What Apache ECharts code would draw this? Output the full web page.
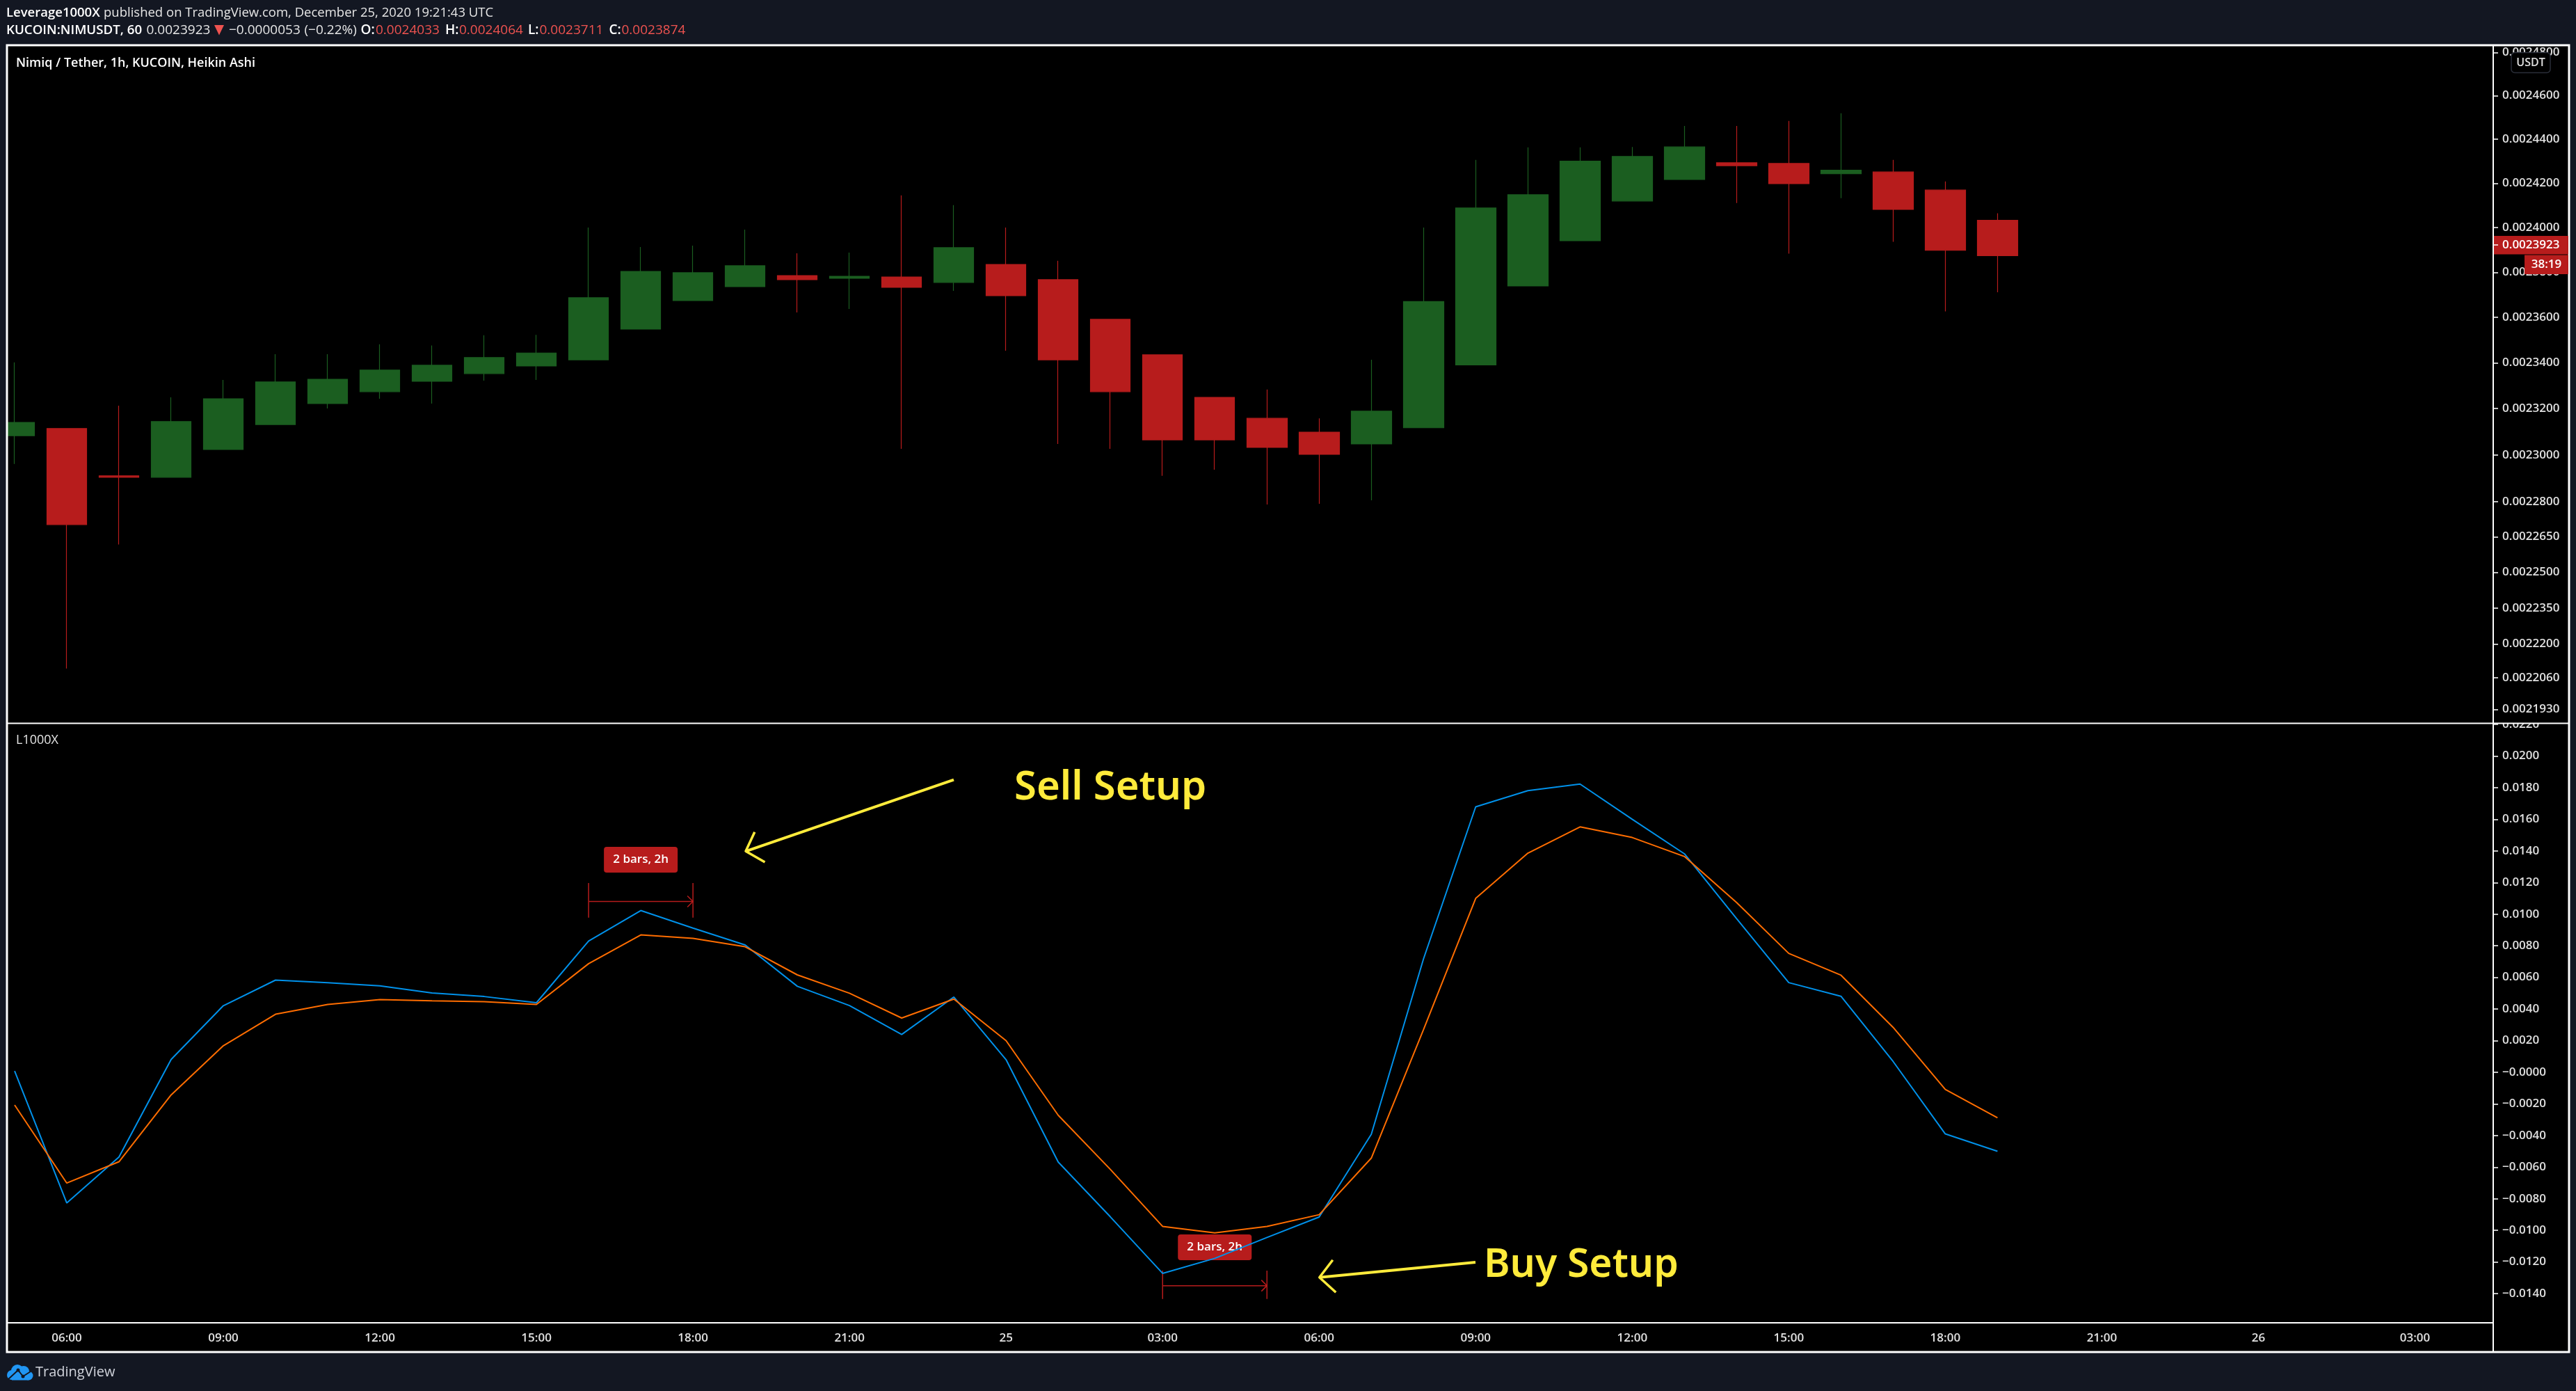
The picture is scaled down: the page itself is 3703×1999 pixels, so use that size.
<!DOCTYPE html>
<html>
  <head>
    <meta charset="utf-8">
    <title>NIMUSDT Heikin Ashi</title>
    <script src="https://cdn.jsdelivr.net/npm/echarts@6/dist/echarts.min.js"></script>
    <style>
      html, body { margin: 0; padding: 0; background: #131722; }
    </style>
  </head>
  <body>
    <div id="main" style="width:3703px;height:1999px;"></div>
    <script>
// hours, 05:00 on the 24th up to 04:00 on the 26th
var hours = ['05:00','06:00','07:00','08:00','09:00','10:00','11:00','12:00','13:00','14:00','15:00','16:00','17:00','18:00','19:00','20:00','21:00','22:00','23:00',
  '25','01:00','02:00','03:00','04:00','05:00','06:00','07:00','08:00','09:00','10:00','11:00','12:00','13:00','14:00','15:00','16:00','17:00','18:00','19:00','20:00','21:00','22:00','23:00',
  '26','01:00','02:00','03:00','04:00'];

var opens = [0.0023083,0.0023114,0.0022910,0.0022904,0.0023023,0.0023131,0.0023222,0.0023274,0.0023319,0.0023353,0.0023386,0.0023413,0.0023548,0.0023674,0.0023736,0.0023785,0.0023773,0.0023779,0.0023755,0.0023835,0.0023767,0.0023591,0.0023435,0.0023249,0.0023158,0.0023098,0.0023047,0.0023117,0.0023391,0.0023739,0.0023941,0.0024120,0.0024217,0.0024293,0.0024290,0.0024243,0.0024251,0.0024169,0.0024033];
var closes = [0.0023140,0.0022702,0.0022904,0.0023144,0.0023243,0.0023316,0.0023328,0.0023368,0.0023389,0.0023423,0.0023443,0.0023687,0.0023804,0.0023798,0.0023829,0.0023767,0.0023782,0.0023733,0.0023910,0.0023696,0.0023413,0.0023274,0.0023065,0.0023065,0.0023032,0.0023002,0.0023189,0.0023670,0.0024088,0.0024148,0.0024300,0.0024322,0.0024365,0.0024280,0.0024198,0.0024259,0.0024082,0.0023898,0.0023874];
var lows = [0.0022961,0.0022098,0.0022617,0.0022904,0.0023023,0.0023131,0.0023201,0.0023243,0.0023222,0.0023322,0.0023325,0.0023413,0.0023548,0.0023674,0.0023736,0.0023622,0.0023637,0.0023026,0.0023717,0.0023453,0.0023047,0.0023026,0.0022910,0.0022936,0.0022787,0.0022790,0.0022805,0.0023117,0.0023391,0.0023739,0.0023941,0.0024120,0.0024217,0.0024111,0.0023883,0.0024133,0.0023936,0.0023626,0.0023711];
var highs = [0.0023402,0.0023114,0.0023213,0.0023249,0.0023325,0.0023438,0.0023438,0.0023481,0.0023476,0.0023521,0.0023523,0.0024000,0.0023913,0.0023919,0.0023991,0.0023885,0.0023888,0.0024145,0.0024101,0.0024000,0.0023851,0.0023591,0.0023435,0.0023249,0.0023283,0.0023158,0.0023413,0.0024000,0.0024306,0.0024363,0.0024363,0.0024365,0.0024461,0.0024461,0.0024484,0.0024519,0.0024306,0.0024208,0.0024064];
var lastClose = 0.0023874;

var fastLine = [0.00008,-0.00827,-0.00536,0.00081,0.00421,0.00583,0.00566,0.00547,0.00502,0.00479,0.00440,0.00830,0.01023,0.00912,0.00805,0.00544,0.00422,0.00239,0.00476,0.00080,-0.00568,-0.00915,-0.01272,-0.01177,-0.01045,-0.00916,-0.00392,0.00717,0.01679,0.01781,0.01823,0.01600,0.01382,0.00972,0.00567,0.00481,0.00068,-0.00390,-0.00500];
var slowLine = [-0.00207,-0.00701,-0.00566,-0.00143,0.00168,0.00367,0.00429,0.00460,0.00452,0.00446,0.00429,0.00687,0.00869,0.00847,0.00794,0.00616,0.00500,0.00343,0.00463,0.00200,-0.00272,-0.00615,-0.00975,-0.01016,-0.00975,-0.00901,-0.00543,0.00270,0.01100,0.01386,0.01552,0.01485,0.01365,0.01074,0.00752,0.00614,0.00284,-0.00109,-0.00288];

var priceTicks = [0.00248,0.00246,0.00244,0.00242,0.0024,0.00238,0.00236,0.00234,0.00232,0.0023,0.00228,0.002265,0.00225,0.002235,0.00222,0.002206,0.002193];
var oscTicks = [0.022,0.02,0.018,0.016,0.014,0.012,0.01,0.008,0.006,0.004,0.002,0,-0.002,-0.004,-0.006,-0.008,-0.01,-0.012,-0.014];

// date range tools: first bar, last bar, low, mid and high of the bracket
var ranges = [
  [11, 13, 0.00978, 0.0108, 0.01197, '2 bars, 2h'],
  [22, 24, -0.01434, -0.0135, -0.01255, '2 bars, 2h']
];

var textFont = '"Open Sans", sans-serif';
var white = '#ffffff';
var axisText = '#e0e0e0';
var red = '#b71c1c';
var green = '#1b5e20';
var yellow = '#ffeb3b';
var blue = '#2196f3';
var page = '#131722';
var softRed = '#ef5350';
var soft = '#e6e6e6';

function isLabeled(i) {
  return i % 3 === 1;
}

var candles = opens.map(function (o, i) {
  return [o, closes[i], lows[i], highs[i]];
});

function renderRange(params, api) {
  var y0 = api.value(2), y1 = api.value(3), y2 = api.value(4);
  var a = api.coord([api.value(0), y1]);
  var b = api.coord([api.value(1), y1]);
  var low = api.coord([api.value(0), y0])[1];
  var high = api.coord([api.value(0), y2])[1];
  var line = { stroke: red, lineWidth: 1.5, fill: 'none' };
  var mid = (a[0] + b[0]) / 2;
  return {
    type: 'group',
    children: [
      { type: 'line', shape: { x1: a[0], y1: low, x2: a[0], y2: high }, style: line },
      { type: 'line', shape: { x1: b[0], y1: low, x2: b[0], y2: high }, style: line },
      { type: 'line', shape: { x1: a[0], y1: a[1], x2: b[0], y2: b[1] }, style: line },
      { type: 'polyline', shape: { points: [[b[0] - 8, b[1] - 8], [b[0], b[1]], [b[0] - 8, b[1] + 8]] }, style: line },
      { type: 'rect', shape: { x: mid - 53, y: high - 52, width: 106, height: 37, r: 4 }, style: { fill: red } },
      { type: 'text', x: mid, y: high - 33.5, style: {
        text: ranges[params.dataIndex][5], fill: white, font: '600 17px ' + textFont, align: 'center', verticalAlign: 'middle'
      } }
    ]
  };
}

function label(x, y, text, font, color) {
  return { type: 'text', z: 60, x: x, y: y, style: { text: text, font: font + ' ' + textFont, fill: color, verticalAlign: 'middle' } };
}

function arrow(points, tips) {
  return [
    { type: 'polyline', z: 60, shape: { points: points }, style: { stroke: yellow, lineWidth: 4, fill: 'none' } },
    { type: 'polyline', z: 60, shape: { points: tips }, style: { stroke: yellow, lineWidth: 3.5, fill: 'none', lineJoin: 'round' } }
  ];
}

function blob(cx, cy, r, color) {
  return { type: 'circle', z: 60, shape: { cx: cx, cy: cy, r: r }, style: { fill: color } };
}

var graphics = [
  // panes
  { type: 'rect', z: -10, shape: { x: 10, y: 65, width: 3683, height: 1878 }, style: { fill: '#000000' } },
  // cover the first candle where it runs past the frame
  { type: 'rect', z: 50, shape: { x: 0, y: 0, width: 9, height: 1999 }, style: { fill: page } },
  // half of the 0.0220 label sits behind the pane border
  { type: 'rect', z: 50, shape: { x: 3586, y: 1027, width: 105, height: 12 }, style: { fill: '#000000' } },
  { type: 'rect', z: 55, shape: { x: 10, y: 65, width: 3683, height: 1878 }, style: { fill: 'none', stroke: white, lineWidth: 3 } },
  { type: 'line', z: 55, shape: { x1: 10, y1: 1039.5, x2: 3692, y2: 1039.5 }, style: { stroke: white, lineWidth: 2 } },
  { type: 'line', z: 55, shape: { x1: 3584, y1: 65, x2: 3584, y2: 1943 }, style: { stroke: white, lineWidth: 2 } },
  // header, first row
  label(9, 19, 'Leverage1000X', '600 18.5px', white),
  label(149, 19, 'published on TradingView.com, December 25, 2020 19:21:43 UTC', '18.5px', soft),
  // header, second row
  label(9, 44, 'KUCOIN:NIMUSDT, 60', '600 18.7px', white),
  label(210.5, 44, '0.0023923', '19px', soft),
  { type: 'polygon', z: 60, shape: { points: [[308, 36], [322, 36], [315, 50.5]] }, style: { fill: softRed } },
  label(329, 44, '−0.0000053', '19px', soft),
  label(437.5, 44, '(−0.22%)', '19px', soft),
  label(518.5, 44, 'O:', '600 19px', white),
  label(540, 44, '0.0024033', '19px', softRed),
  label(640, 44, 'H:', '600 19px', white),
  label(660, 44, '0.0024064', '19px', softRed),
  label(759, 44, 'L:', '600 19px', white),
  label(775.5, 44, '0.0023711', '19px', softRed),
  label(875.5, 44, 'C:', '600 19px', white),
  label(893.5, 44, '0.0023874', '19px', softRed),
  label(23, 91, 'Nimiq / Tether, 1h, KUCOIN, Heikin Ashi', '600 18px', white),
  label(23, 1064, 'L1000X', '18px', soft),
  // price scale badges
  { type: 'rect', z: 60, shape: { x: 3610, y: 75.5, width: 56, height: 29, r: 5 }, style: { fill: '#000000', stroke: '#2a2e39', lineWidth: 1.5 } },
  { type: 'text', z: 61, x: 3638, y: 90, style: { text: 'USDT', font: '600 16px ' + textFont, fill: axisText, align: 'center', verticalAlign: 'middle' } },
  { type: 'rect', z: 60, shape: { x: 3585, y: 339, width: 107, height: 26.5 }, style: { fill: red } },
  { type: 'line', z: 61, shape: { x1: 3585, y1: 352, x2: 3591, y2: 352 }, style: { stroke: white, lineWidth: 1.5 } },
  { type: 'text', z: 61, x: 3597, y: 352.5, style: { text: '0.0023923', font: '600 17px ' + textFont, fill: white, verticalAlign: 'middle' } },
  { type: 'rect', z: 60, shape: { x: 3629, y: 366.5, width: 63, height: 27.5 }, style: { fill: red } },
  { type: 'text', z: 61, x: 3660.5, y: 380.5, style: { text: '38:19', font: '600 17px ' + textFont, fill: white, align: 'center', verticalAlign: 'middle' } },
  // hand drawn notes
  { type: 'text', z: 60, x: 1458, y: 1132, style: { text: 'Sell Setup', font: '600 58px "Noto Sans", sans-serif', fill: yellow, verticalAlign: 'middle' } },
  { type: 'text', z: 60, x: 2133, y: 1819, style: { text: 'Buy Setup', font: '600 57px "Noto Sans", sans-serif', fill: yellow, verticalAlign: 'middle' } },
  // footer logo
  blob(17, 1976, 7, blue),
  blob(25, 1970, 9, blue),
  blob(34, 1971, 8, blue),
  blob(41, 1977, 6.5, blue),
  { type: 'rect', z: 60, shape: { x: 17, y: 1975, width: 24, height: 8.5 }, style: { fill: blue } },
  { type: 'polyline', z: 61, shape: { points: [[12, 1982], [26, 1969], [33, 1978], [44, 1971]] }, style: { stroke: page, lineWidth: 2, fill: 'none' } },
  { type: 'circle', z: 61, shape: { cx: 26, cy: 1969, r: 2.5 }, style: { fill: page } },
  { type: 'circle', z: 61, shape: { cx: 33, cy: 1978, r: 2.5 }, style: { fill: page } },
  { type: 'text', z: 60, x: 51, y: 1972, style: { text: 'TradingView', font: '20px ' + textFont, fill: '#d1d4dc', verticalAlign: 'middle' } }
].concat(
  arrow([[1371, 1120.7], [1072, 1223.3]], [[1084.8, 1195.7], [1072, 1223.3], [1099.5, 1239]]),
  arrow([[2121, 1814], [1896.7, 1835.7]], [[1915.8, 1810.7], [1896.7, 1835.7], [1920.3, 1857.3]])
);

var myChart = echarts.init(document.getElementById('main'));
myChart.setOption({
  animation: false,
  backgroundColor: page,
  graphic: { elements: graphics },
  grid: [
    { left: -16.5, right: 119, top: 66, height: 973, outerBoundsMode: 'none' },
    { left: -16.5, right: 119, top: 1040, height: 860.8, outerBoundsMode: 'none' }
  ],
  xAxis: [
    { type: 'category', gridIndex: 0, data: hours, axisLine: { show: false }, axisTick: { show: false }, axisLabel: { show: false } },
    { type: 'category', gridIndex: 1, data: hours,
      axisLine: { onZero: false, lineStyle: { color: white, width: 2 } },
      axisTick: { alignWithLabel: true, interval: isLabeled, length: 6, lineStyle: { color: white, width: 1.5 } },
      axisLabel: { interval: isLabeled, margin: 14, color: axisText, fontFamily: 'Open Sans', fontWeight: 600, fontSize: 17 } }
  ],
  yAxis: [
    { type: 'log', gridIndex: 0, position: 'right', min: 0.00218738, max: 0.00248304, splitLine: { show: false },
      axisLine: { show: false },
      axisTick: { show: true, customValues: priceTicks, length: 7, lineStyle: { color: white, width: 1.5 } },
      axisLabel: { customValues: priceTicks, margin: 13, color: axisText, fontFamily: 'Open Sans', fontWeight: 600, fontSize: 17,
        formatter: function (v) { return v.toFixed(7); } } },
    { type: 'value', gridIndex: 1, position: 'right', min: -0.01584, max: 0.02205, splitLine: { show: false },
      axisLine: { show: false },
      axisTick: { show: true, customValues: oscTicks, length: 7, lineStyle: { color: white, width: 1.5 } },
      axisLabel: { customValues: oscTicks, margin: 13, color: axisText, fontFamily: 'Open Sans', fontWeight: 600, fontSize: 17,
        formatter: function (v) { return v <= 0 ? '−' + Math.abs(v).toFixed(4) : v.toFixed(4); } } }
  ],
  series: [
    {
      name: 'NIMUSDT',
      type: 'candlestick',
      xAxisIndex: 0,
      yAxisIndex: 0,
      barWidth: 58,
      data: candles,
      itemStyle: { color: green, color0: red, borderColor: green, borderColor0: red, borderWidth: 1.2 },
      markLine: {
        silent: true,
        symbol: 'none',
        label: { show: false },
        lineStyle: { color: red, type: 'dotted', width: 1.5 },
        data: [{ yAxis: lastClose }]
      }
    },
    {
      type: 'custom',
      xAxisIndex: 1,
      yAxisIndex: 1,
      z: 1,
      encode: { x: [0, 1], y: [2, 3, 4] },
      data: ranges.map(function (r) { return r.slice(0, 5); }),
      renderItem: renderRange
    },
    {
      name: 'fast',
      type: 'line',
      xAxisIndex: 1,
      yAxisIndex: 1,
      showSymbol: false,
      data: fastLine,
      lineStyle: { color: '#0091ea', width: 2 }
    },
    {
      name: 'slow',
      type: 'line',
      xAxisIndex: 1,
      yAxisIndex: 1,
      showSymbol: false,
      data: slowLine,
      lineStyle: { color: '#ff6d00', width: 2 }
    }
  ]
});
    </script>
  </body>
</html>
